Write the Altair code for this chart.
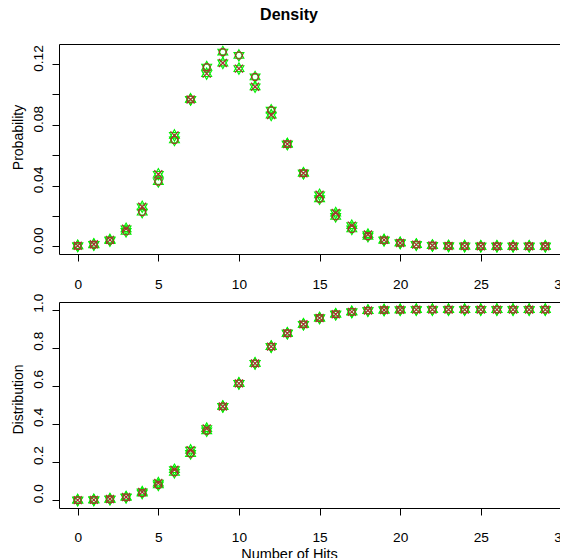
import altair as alt
import pandas as pd

hits = list(range(30))

# Density panel
dens_circle = [0.0002, 0.0010, 0.0037, 0.0098, 0.0225, 0.0426, 0.0700, 0.0967, 0.1180, 0.1279,
               0.1257, 0.1115, 0.0896, 0.0673, 0.0481, 0.0313, 0.0197, 0.0114, 0.0066, 0.0039,
               0.0022, 0.0011, 0.0005, 0.0002, 0.0001, 0.0, 0.0, 0.0, 0.0, 0.0]
dens_cross = [0.0003, 0.0013, 0.0042, 0.0115, 0.0260, 0.0474, 0.0730, 0.0967, 0.1137, 0.1207,
              0.1170, 0.1050, 0.0864, 0.0673, 0.0481, 0.0339, 0.0219, 0.0136, 0.0077, 0.0042,
              0.0022, 0.0011, 0.0005, 0.0002, 0.0001, 0.0, 0.0, 0.0, 0.0, 0.0]

# Distribution panel
dist_circle = [0.0002, 0.0012, 0.005, 0.015, 0.037, 0.080, 0.146, 0.245, 0.364, 0.492,
               0.613, 0.718, 0.806, 0.876, 0.923, 0.956, 0.976, 0.988, 0.995, 0.998,
               0.999, 1.0, 1.0, 1.0, 1.0, 1.0, 1.0, 1.0, 1.0, 1.0]
dist_cross = [0.0003, 0.0016, 0.006, 0.017, 0.043, 0.090, 0.160, 0.262, 0.376, 0.492,
              0.613, 0.718, 0.806, 0.876, 0.923, 0.956, 0.976, 0.988, 0.995, 0.998,
              0.999, 1.0, 1.0, 1.0, 1.0, 1.0, 1.0, 1.0, 1.0, 1.0]

x_ticks = [0, 5, 10, 15, 20, 25, 30]
top_y_ticks = [0.0, 0.02, 0.04, 0.06, 0.08, 0.10, 0.12]
bot_y_ticks = [0.0, 0.2, 0.4, 0.6, 0.8, 1.0]

FONT = "Liberation Sans"
RED = "#a3352e"
GREEN = "#00f000"
HEX = "M0,-1L0.866,0.5L-0.866,0.5ZM0,1L0.866,-0.5L-0.866,-0.5Z"
XSH = "M-1,-1L1,1M-1,1L1,-1"

W = 505


def panel_df(circ, cross):
    return pd.DataFrame({"x": hits, "circle": circ, "cross": cross})


def make_panel(df, ydomain, yticks, yfmt, ytitle, title_y, label_expr, bottom, h, lpad, yoff):
    xaxis = alt.Axis(values=x_ticks, tickSize=7, labelPadding=lpad, domain=False, grid=False,
                     labelFontSize=13.7, labelFont=FONT, labelColor="black", tickColor="black",
                     labelFlush=False, labelOverlap=False, labelBound=False,
                     title="Number of Hits" if bottom else None,
                     titleFont=FONT, titleFontSize=14.5, titleFontWeight="normal",
                     titleX=230, titleY=50, titleBaseline="alphabetic", titleAnchor="start",
                     titleAlign="center", titleColor="black")
    x = alt.X("x:Q", scale=alt.Scale(domain=[-1.16, 30.16], nice=False, zero=False), axis=xaxis)
    yaxis = alt.Axis(values=yticks, format=yfmt, labelExpr=label_expr, tickSize=7, labelPadding=7,
                     labelOffset=yoff,
                     domain=False, grid=False, labelAngle=270, labelAlign="center",
                     labelBaseline="bottom", labelFontSize=13.7, labelFont=FONT,
                     labelColor="black", tickColor="black", labelOverlap=False,
                     title=ytitle, titleFont=FONT, titleFontSize=14, titleFontWeight="normal",
                     titleAngle=270, titleX=-36.5, titleY=title_y, titleAlign="center",
                     titleBaseline="alphabetic", titleAnchor="start", titleColor="black")
    base = alt.Chart(df)
    sc = alt.Scale(domain=ydomain, nice=False, zero=False)
    g1 = base.mark_point(shape=HEX, size=130, color=GREEN, strokeWidth=1.1, filled=False, opacity=1).encode(
        x=x, y=alt.Y("circle:Q", scale=sc, axis=yaxis))
    g2 = base.mark_point(shape=HEX, size=130, color=GREEN, strokeWidth=1.1, filled=False, opacity=1).encode(
        x=x, y=alt.Y("cross:Q", scale=sc, axis=yaxis))
    c = base.mark_point(shape="circle", size=49, color=RED, strokeWidth=1.3, filled=False, opacity=1).encode(
        x=x, y=alt.Y("circle:Q", scale=sc, axis=yaxis))
    k = base.mark_point(shape=XSH, size=64, color=RED, strokeWidth=1.3, filled=False, opacity=1).encode(
        x=x, y=alt.Y("cross:Q", scale=sc, axis=yaxis))
    return alt.layer(g1, g2, c, k).properties(width=W, height=h)


top = make_panel(panel_df(dens_circle, dens_cross), [-0.0051, 0.1332], top_y_ticks, ".2f",
                 "Probability", 93,
                 "(round(datum.value*100) % 4 == 0) ? format(datum.value, '.2f') : ''",
                 False, 210, 16, -6)
top = top.properties(title=alt.TitleParams("Density", fontSize=16, font=FONT, fontWeight="bold",
                                           anchor="middle", frame="group", dx=-22.5, offset=21,
                                           color="black"))
bot = make_panel(panel_df(dist_circle, dist_cross), [-0.041, 1.04], bot_y_ticks, ".1f",
                 "Distribution", 97, "format(datum.value, '.1f')", True, 206, 15, -7)

chart = alt.vconcat(top, bot, spacing=0).properties(
    padding={"left": 3, "top": -2, "right": -10, "bottom": -3.5}
).configure(background="white").configure_view(stroke="black", strokeWidth=1)

chart.save("out.html", embed_options={"renderer": "svg", "actions": False})
